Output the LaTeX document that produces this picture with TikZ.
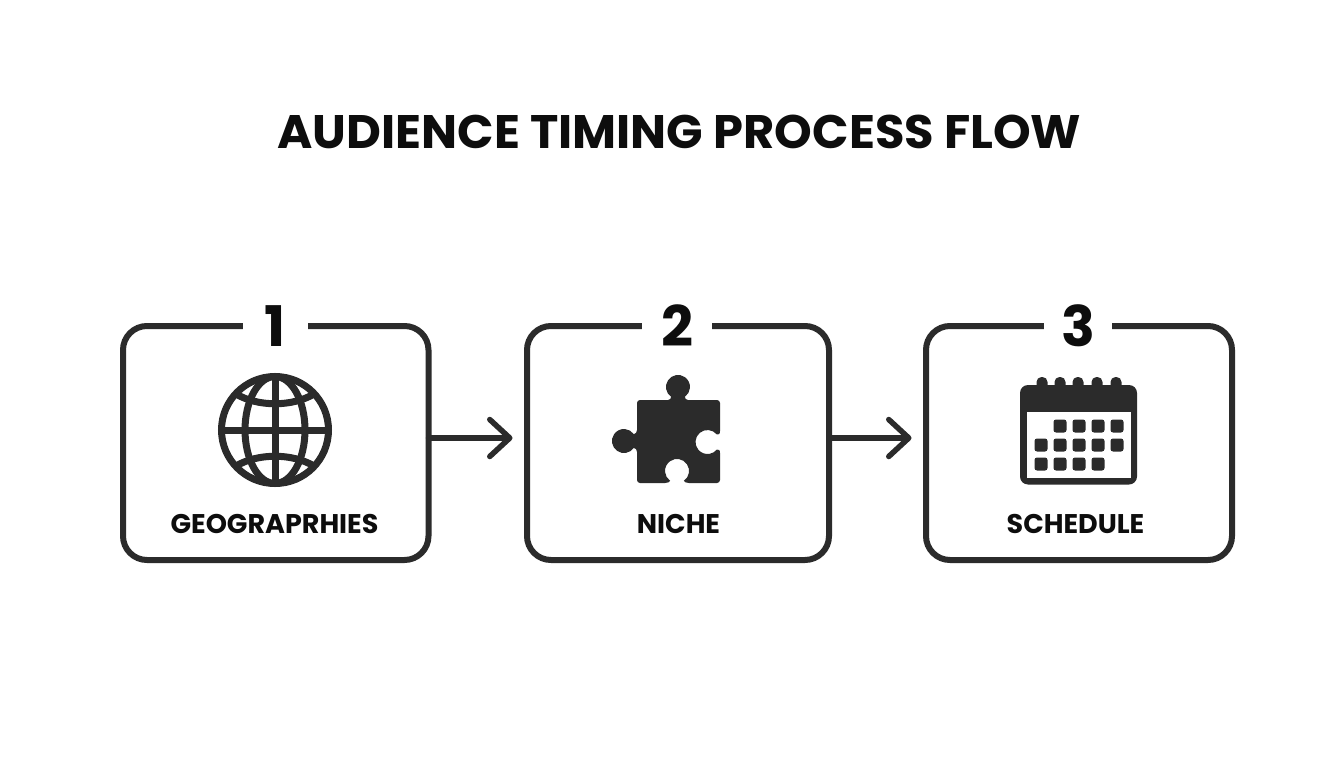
\documentclass[tikz,border=0pt]{standalone}
\usepackage{fontspec}
\setmainfont{Poppins}
\newfontfamily\widefont{Poppins}[BoldFeatures={FakeStretch=1.02}]
\usetikzlibrary{arrows.meta}
\definecolor{ink}{HTML}{2B2B2B}
\definecolor{txt}{HTML}{0D0D0D}
\tikzset{
  stepbox/.style={draw=ink,line width=6pt,rounded corners=24pt,fill=none,inner sep=0pt,outer sep=0pt},
  numlabel/.style={fill=white,text=txt,font=\fontsize{56}{56}\selectfont\bfseries,inner sep=0pt,anchor=center},
  steplabel/.style={text=txt,font=\fontsize{27}{27}\selectfont\bfseries,inner sep=0pt,anchor=center},
  flow/.style={draw=ink,line width=5.5pt,line cap=round,shorten >=14.5pt,-{Straight Barb[length=20pt,width=37pt,line width=5.5pt,round]}},
  globeline/.style={draw=ink,line width=7pt},
  cell/.style={fill=ink,rounded corners=2.5pt}
}
\begin{document}
\begin{tikzpicture}[x=1pt,y=1pt]
\useasboundingbox (0,-768) rectangle (1344,0);
\fill[white] (0,-768) rectangle (1344,0);
\node[text=txt,font=\widefont\fontsize{47}{47}\selectfont\bfseries,inner sep=0pt] (title) at (679.5,-132) {AUDIENCE TIMING PROCESS FLOW};

\node[stepbox,minimum width=305.5pt,minimum height=234pt] (box1) at (275.75,-443) {};
\node[stepbox,minimum width=302pt,minimum height=234pt] (box2) at (678,-443) {};
\node[stepbox,minimum width=306pt,minimum height=234pt] (box3) at (1079,-443) {};

\node[numlabel,minimum width=65pt,minimum height=48pt] (n1) at (275.5,-326) {1};
\node[numlabel,minimum width=70pt,minimum height=48pt] (n2) at (677,-326) {2};
\node[numlabel,minimum width=68pt,minimum height=48pt] (n3) at (1078,-326) {3};

\node[steplabel] (l1) at (274.5,-524) {GEOGRAPRHIES};
\node[steplabel] (l2) at (678.5,-524) {NICHE};
\node[steplabel] (l3) at (1075.5,-524) {SCHEDULE};

\draw[flow] (box1.east |- 0,-438) coordinate (a1) -- (box2.west |- 0,-438) coordinate (b1);
\draw[flow] (box2.east |- 0,-438) coordinate (a2) -- (box3.west |- 0,-438) coordinate (b2);

% globe
\draw[globeline] (275,-430) circle[radius=53.5];
\draw[globeline] (275,-430) ellipse[x radius=30,y radius=53.5];
\draw[globeline] (275,-376.5) -- (275,-483.5);
\draw[globeline] (221.5,-430) -- (328.5,-430);
\draw[globeline] (236,-394) .. controls (258,-407) and (292,-407) .. (314,-394);
\draw[globeline] (236,-466) .. controls (258,-453) and (292,-453) .. (314,-466);

% puzzle
\fill[ink] (640,-400) -- (668,-400) .. controls (670,-400) and (671,-398.5) .. (671.1,-396.8)
  arc[start angle=235,end angle=-55,radius=12]
  .. controls (685,-398.5) and (686,-400) .. (688,-400)
  -- (717,-400) arc[start angle=90,end angle=0,radius=3]
  -- (720,-431) .. controls (720,-434) and (718.5,-435.5) .. (716.7,-434.3)
  arc[start angle=40,end angle=320,radius=12]
  .. controls (718.5,-448.5) and (720,-450) .. (720,-453)
  -- (720,-480) arc[start angle=0,end angle=-90,radius=3]
  -- (689,-483) .. controls (686,-483) and (684.5,-482) .. (683.9,-480.8)
  arc[start angle=-55,end angle=235,radius=12]
  .. controls (669.5,-482) and (668,-483) .. (665,-483)
  -- (640,-483) arc[start angle=270,end angle=180,radius=3]
  -- (637,-452) .. controls (637,-449) and (635.5,-448.5) .. (633.8,-447.9)
  arc[start angle=-35,end angle=-325,radius=12]
  .. controls (635.5,-433.5) and (637,-433) .. (637,-430)
  -- (637,-403) arc[start angle=180,end angle=90,radius=3] -- cycle;

% calendar
\foreach \x in {1042,1060,1078,1097,1116}
  \fill[ink,rounded corners=5pt] (\x-5.5,-395) rectangle (\x+5.5,-377);
\fill[ink,rounded corners=8pt] (1020,-484.5) rectangle (1137,-385);
\fill[white] (1027,-478) rectangle (1131,-412);
\foreach \x in {1060,1079,1098,1117}
  \fill[cell] (\x-6.5,-432.5) rectangle (\x+6.5,-419.5);
\foreach \x in {1041,1060,1079,1098,1117}
  \fill[cell] (\x-6.5,-451.5) rectangle (\x+6.5,-438.5);
\foreach \x in {1041,1060,1079,1098}
  \fill[cell] (\x-6.5,-470.5) rectangle (\x+6.5,-457.5);
\end{tikzpicture}
\end{document}
